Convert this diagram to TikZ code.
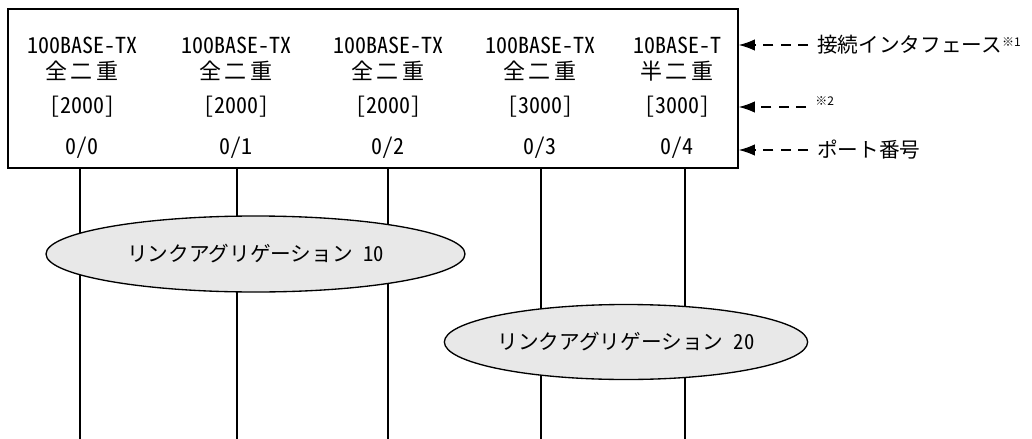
\documentclass[tikz,border=0pt]{standalone}
\usepackage{fontspec}
\setmainfont{Noto Sans CJK JP}
\newfontfamily\hwfont[RawFeature=+hwid]{Noto Sans CJK JP}
\usetikzlibrary{arrows.meta,shapes.geometric}
\definecolor{lagfill}{HTML}{E8E8E8}
\newcommand\spread[3]{#1\kern2.5pt#2\kern2.5pt#3}
\tikzset{switch/.style={draw,line width=1.2pt,minimum width=547.5pt,minimum height=119.25pt,inner sep=0pt},
port/.style={font=\hwfont\fontsize{16.5}{18}\selectfont,inner sep=0pt},
lag/.style={draw,ellipse,fill=lagfill,line width=1pt,inner sep=0pt,font=\hwfont\fontsize{15.5}{17}\selectfont},
note/.style={anchor=west,inner sep=0pt,font=\fontsize{15.5}{17}\selectfont},
link/.style={line width=.9pt},
callout/.style={line width=.9pt,dash pattern=on 7.5pt off 5.5pt,shorten <=6.75pt,-{Latex[length=12pt,width=8.5pt]}}}

\begin{document}
\begin{tikzpicture}[x=.75pt,y=-.75pt]
\useasboundingbox (0,0) rectangle (1032,439);
\node[switch] (sw) at (373,88.5) {};
% ports: text column / line position
\foreach \n/\x/\lx/\t/\d/\w in {0/82/80/100BASE-TX/全二重/2000,1/236/237/100BASE-TX/全二重/2000,2/388/388/100BASE-TX/全二重/2000,3/540/541/100BASE-TX/全二重/3000,4/677/685/10BASE-T/半二重/3000}{
\node[port] (t\n) at (\x,45) {\t};
\node[port] (d\n) at (\x,71) {\expandafter\spread\d};
\node[port] (w\n) at (\x,107) {[\w]};
\node[port] (p\n) at (\x,148) {0/\n};
\coordinate (top\n) at (\lx,168);
\coordinate (bot\n) at (\lx,439);
\draw[link] (top\n)--(bot\n);
}
\node[lag,minimum width=314.25pt,minimum height=57pt] (lag10) at (255.5,254) {リンクアグリゲーション\ 10};
\node[lag,minimum width=271.5pt,minimum height=56.25pt] (lag20) at (626,342) {リンクアグリゲーション\ 20};
% legend on the right
\node[note] (n1) at (817,45) {接続インタフェース\raisebox{5pt}{\fontsize{9}{9}\selectfont ※1}};
\node[note] (n2) at (815,107) {\smash{\raisebox{1.5pt}{\fontsize{9}{9}\selectfont ※2}}};
\node[note] (n3) at (817,150) {ポート番号};
\foreach \x in {n1,n2,n3}\draw[callout] (\x.west)--(\x.west -| sw.east);
\end{tikzpicture}
\end{document}
